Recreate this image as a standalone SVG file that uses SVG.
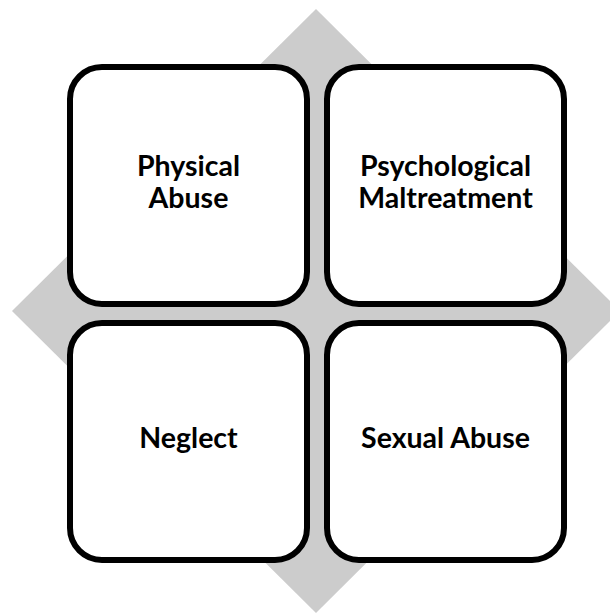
<svg xmlns="http://www.w3.org/2000/svg" width="610" height="615" viewBox="0 0 610 615">
<style>
.box{fill:#ffffff;stroke:#000000;stroke-width:6}
.lbl{font-family:Lato,"Open Sans","Liberation Sans",sans-serif;font-weight:bold;font-size:28.5px;fill:#000000;text-anchor:middle}
</style>
<rect width="610" height="615" fill="#ffffff"/>
<polygon id="diamond" points="316,9 620,311 316,613 12,311" fill="#cccccc"/>
<g id="connectors"></g>
<g id="physical-abuse">
<rect class="box" x="70" y="67" width="237" height="237" rx="32" ry="32"/>
<text class="lbl" x="188.5" y="175.5">Physical</text>
<text class="lbl" x="188.5" y="207.5">Abuse</text>
</g>
<g id="psychological-maltreatment">
<rect class="box" x="327" y="67" width="237" height="237" rx="32" ry="32"/>
<text class="lbl" x="445.5" y="175.5">Psychological</text>
<text class="lbl" x="445.5" y="207.5">Maltreatment</text>
</g>
<g id="neglect">
<rect class="box" x="70" y="323" width="237" height="237" rx="32" ry="32"/>
<text class="lbl" x="188.5" y="448">Neglect</text>
</g>
<g id="sexual-abuse">
<rect class="box" x="327" y="323" width="237" height="237" rx="32" ry="32"/>
<text class="lbl" x="445.5" y="448">Sexual Abuse</text>
</g>
</svg>
